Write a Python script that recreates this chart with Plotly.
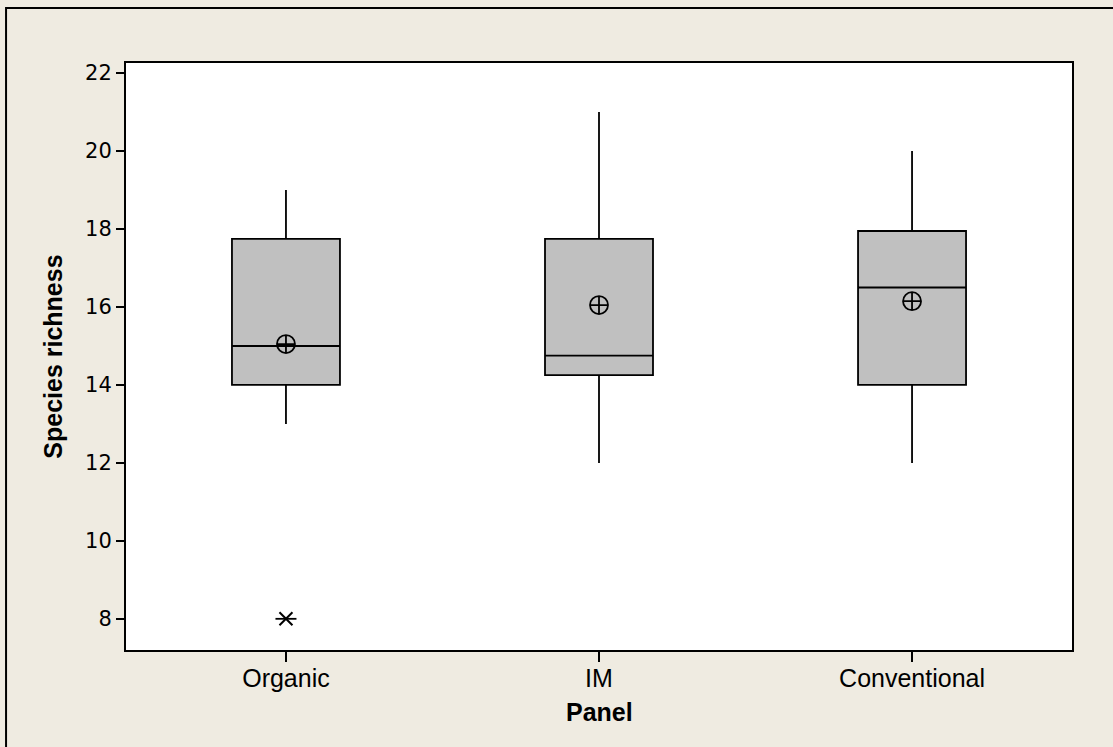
import plotly.graph_objects as go

# Panel groups and their summary statistics (species richness)
panels = ["Organic", "IM", "Conventional"]
q1 = [14.0, 14.25, 14.0]
median = [15.0, 14.75, 16.5]
q3 = [17.75, 17.75, 17.95]
lower_whisker = [13.0, 12.0, 12.0]
upper_whisker = [19.0, 21.0, 20.0]
means = [15.05, 16.05, 16.15]
outlier_x = ["Organic"]
outlier_y = [8.0]

y_ticks = [8, 10, 12, 14, 16, 18, 20, 22]

pos = {name: i for i, name in enumerate(panels)}
xs = [pos[p] for p in panels]

fig = go.Figure()

for i, p in enumerate(panels):
    fig.add_trace(go.Box(
        x=[xs[i]],
        q1=[q1[i]], median=[median[i]], q3=[q3[i]],
        lowerfence=[lower_whisker[i]], upperfence=[upper_whisker[i]],
        width=0.345, whiskerwidth=0,
        fillcolor="#C0C0C0",
        line=dict(color="black", width=1.8),
        boxpoints=False, hoverinfo="skip", showlegend=False,
    ))

# Mean symbols
fig.add_trace(go.Scatter(
    x=xs, y=means, mode="markers", showlegend=False,
    marker=dict(symbol="circle-cross-open", size=18, color="black",
                line=dict(color="black", width=1.8)),
))

# Outlier asterisk: diagonal cross plus horizontal stroke
ox = [pos[p] for p in outlier_x]
fig.add_trace(go.Scatter(
    x=ox, y=outlier_y, mode="markers", showlegend=False,
    marker=dict(symbol="x-thin-open", size=13, color="black",
                line=dict(color="black", width=2)),
))
fig.add_trace(go.Scatter(
    x=ox, y=outlier_y, mode="markers", showlegend=False,
    marker=dict(symbol="line-ew-open", size=15, color="black",
                line=dict(color="black", width=1.8)),
))

bg = "#EFEBE1"
fig.update_layout(
    width=1113, height=747,
    paper_bgcolor=bg, plot_bgcolor="white",
    margin=dict(l=126, r=41, t=63, b=97),
    xaxis=dict(
        range=[-0.511, 2.511], tickvals=xs, ticktext=panels,
        showgrid=False, zeroline=False, showline=True, mirror=True,
        linecolor="black", linewidth=2,
        ticks="outside", ticklen=10, tickwidth=1.5, tickcolor="black",
        ticklabelstandoff=-5,
        tickfont=dict(family="Liberation Sans, Arial", size=25, color="black"),
    ),
    yaxis=dict(
        range=[7.2, 22.26], tickvals=y_ticks,
        showgrid=False, zeroline=False, showline=True, mirror=True,
        linecolor="black", linewidth=2,
        ticks="outside", ticklen=8, tickwidth=1.5, tickcolor="black",
        tickfont=dict(family="DejaVu Sans, Verdana", size=21, color="black"),
    ),
    annotations=[
        dict(text="<b>Panel</b>", xref="paper", yref="paper",
             x=0.5, y=-0.105, xanchor="center", yanchor="middle",
             showarrow=False,
             font=dict(family="Liberation Sans, Arial", size=25, color="black")),
        dict(text="<b>Species richness</b>", xref="paper", yref="paper",
             x=-0.078, y=0.5, xanchor="center", yanchor="middle",
             textangle=-90, showarrow=False,
             font=dict(family="Liberation Sans, Arial", size=25, color="black")),
    ],
    shapes=[
        dict(type="rect", xref="paper", yref="paper",
             x0=-0.1268, y0=-0.5, x1=1.3, y1=1.0937,
             line=dict(color="black", width=2), fillcolor="rgba(0,0,0,0)",
             layer="below"),
    ],
)

fig.write_html("out.html")
